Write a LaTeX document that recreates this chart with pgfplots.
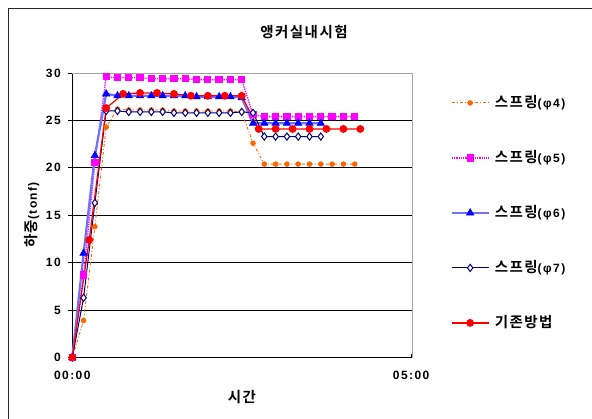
\documentclass[border=0pt]{standalone}
\usepackage{fontspec}
\usepackage{pgfplots}
\pgfplotsset{compat=1.18}
\setmainfont{Liberation Sans}
\newfontfamily\krfont{Noto Sans CJK KR}[BoldFont={* Bold}]
\newcommand\K[1]{{\krfont\bfseries\fontsize{14.5}{16}\selectfont\addfontfeatures{LetterSpace=10}#1}}
\newcommand\lab{\bfseries\fontsize{12}{14}\selectfont\addfontfeatures{LetterSpace=12}}

\definecolor{c4}{HTML}{FF6600}
\definecolor{c5}{HTML}{FF00FF}
\definecolor{c6}{HTML}{0000FF}
\definecolor{c6line}{HTML}{7070FF}
\definecolor{c7}{HTML}{000080}
\definecolor{cb}{HTML}{FF0000}

% load tests: time (min) vs load (tonf)
\pgfplotstableread{
t y
0 0
10 3.9
20 13.8
30 24.3
40 26.2
50 26.1
60 26.1
70 26.1
80 26.1
90 26.0
100 26.0
110 26.0
120 26.0
130 26.0
140 26.0
150 25.9
160 22.6
170 20.4
180 20.4
190 20.4
200 20.4
210 20.4
220 20.4
230 20.4
240 20.4
250 20.4
}\sFour
\pgfplotstableread{
t y
0 0
10 8.7
20 20.6
30 29.6
40 29.5
50 29.5
60 29.5
70 29.4
80 29.4
90 29.4
100 29.4
110 29.3
120 29.3
130 29.3
140 29.3
150 29.3
160 25.6
170 25.4
180 25.4
190 25.4
200 25.4
210 25.4
220 25.4
230 25.4
240 25.4
250 25.4
}\sFive
\pgfplotstableread{
t y
0 0
10 11.0
20 21.3
30 27.8
40 27.6
50 27.6
60 27.6
70 27.6
80 27.6
90 27.6
100 27.6
110 27.5
120 27.5
130 27.5
140 27.5
150 27.4
160 24.7
170 24.7
180 24.7
190 24.7
200 24.7
210 24.7
220 24.7
}\sSix
\pgfplotstableread{
t y
0 0
10 6.3
20 16.3
30 26.0
40 26.0
50 25.9
60 25.9
70 25.9
80 25.9
90 25.8
100 25.8
110 25.8
120 25.8
130 25.8
140 25.8
150 25.9
160 25.8
170 23.3
180 23.3
190 23.3
200 23.3
210 23.3
220 23.3
}\sSeven
\pgfplotstableread{
t y
0 0
15 12.4
30 26.3
45 27.8
60 27.9
75 27.9
90 27.8
105 27.6
120 27.6
135 27.6
150 27.6
165 24.1
180 24.1
195 24.1
210 24.1
225 24.1
240 24.1
255 24.1
}\sBase

\begin{document}
\begin{tikzpicture}[x=1pt,y=1pt]
\useasboundingbox (0,0) rectangle (592,-419);
\draw[line width=1pt, black!85] (592,-9) -- (8.5,-9) -- (8.5,-419);
\begin{axis}[
  at={(64,-377)}, anchor=south west,
  scale only axis, width=340pt, height=284.5pt,
  xmin=0, xmax=301, ymin=0, ymax=30,
  axis x line*=bottom, axis y line*=left,
  axis line style={black, line width=0.9pt},
  xtick={0,300}, xticklabels={00:00,05:00},
  ytick={0,5,...,30},
  ymajorgrids, grid style={black, line width=0.8pt},
  tick align=inside, major tick length=4pt,
  tick style={black, line width=0.8pt},
  y tick style={xshift=-4pt},
  /pgf/number format/assume math mode=true,
  ticklabel style={font=\lab},
  yticklabel style={xshift=-8pt},
  xticklabel style={yshift=-10pt},
  clip=false,
  legend cell align=left,
  legend style={draw=none, fill=none, at={(1.112,0.922)}, anchor=north west,
    font=\lab, row sep=40pt, inner sep=0pt,
    nodes={inner sep=0pt, text height=12pt, text depth=3pt},
    /tikz/every odd column/.append style={column sep=5pt}},
  legend image code/.code={%
    \draw[mark repeat=2,mark phase=2] plot coordinates {(0pt,0pt) (18.5pt,0pt) (37pt,0pt)};},
]
\addplot[c4, line width=0.9pt, dash dot, mark=*, mark size=2.3pt,
  mark options={solid, fill=c4}] table[x=t,y=y] {\sFour};
\addlegendentry{\K{스프링}(φ4)}
\addplot[c5, line width=1.3pt, densely dotted, mark=square*, mark size=3pt,
  mark options={solid, fill=c5}] table[x=t,y=y] {\sFive};
\addlegendentry{\K{스프링}(φ5)}
\addplot[c6line, line width=2.2pt, mark=triangle*, mark size=4.3pt,
  mark options={solid, fill=c6, draw=c6, line width=0.5pt}] table[x=t,y=y] {\sSix};
\addlegendentry{\K{스프링}(φ6)}
\addplot[c7, line width=1pt, mark=diamond*, mark size=3.6pt,
  mark options={solid, fill=white, draw=c7, line width=1pt}] table[x=t,y=y] {\sSeven};
\addlegendentry{\K{스프링}(φ7)}
\addplot[cb, line width=1.2pt, mark=*, mark size=3.3pt,
  mark options={solid, fill=cb}] table[x=t,y=y] {\sBase};
\addlegendentry{\K{기존방법}}
\draw[gray!70, line width=1pt] (rel axis cs:0,1) -- (rel axis cs:1,1) -- (rel axis cs:1,0);
\end{axis}
\node at (304,-32) {\K{앵커실내시험}};
\node at (242,-397) {\K{시간}};
\node[rotate=90] at (32,-215) {\K{하중}\lab(tonf)};
\end{tikzpicture}
\end{document}
